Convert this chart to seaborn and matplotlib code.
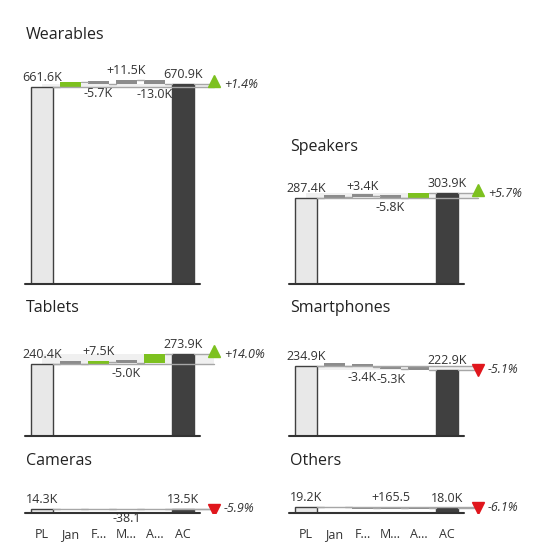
import matplotlib
matplotlib.use('Agg')
import matplotlib.pyplot as plt
import seaborn as sns

sns.set_style('white')
plt.rcParams['font.family'] = ['Open Sans', 'DejaVu Sans']

categories = ['PL', 'Jan', 'F...', 'M...', 'A...', 'AC']
products = ['Wearables', 'Speakers', 'Tablets', 'Smartphones', 'Cameras', 'Others']
pl_values = [661.6, 287.4, 240.4, 234.9, 14.3, 19.2]        # K
jan = [16.5, 4.0, 2.0, -1.5, -0.3, -0.6]
feb = [-5.7, 3.4, 7.5, -3.4, -0.2, -0.9]
mar = [11.5, -5.8, -5.0, -5.3, -0.0381, 0.1655]
apr = [-13.0, 14.9, 29.0, -1.8, -0.2619, -0.4655]
ac_values = [670.9, 303.9, 273.9, 222.9, 13.5, 18.0]
delta_labels = [
    [None, '-5.7K', '+11.5K', '-13.0K'],
    [None, '+3.4K', '-5.8K', None],
    [None, '+7.5K', '-5.0K', None],
    [None, '-3.4K', '-5.3K', None],
    [None, None, '-38.1', None],
    [None, None, '+165.5', None],
]
pct_labels = ['+1.4%', '+5.7%', '+14.0%', '-5.1%', '-5.9%', '-6.1%']

# layout in pixels (x of PL center, baseline y from top, title y)
layout = [(42, 284, 35), (306, 284, 147), (42, 436, 308),
          (306, 436, 308), (42, 513, 461), (306, 513, 461)]

GREEN, RED, GRAY, DARK = '#7DC11F', '#E0161C', '#8C8C8C', '#404040'
W = H = 560
step = 28.2
kpx = 0.298
xmin, xmax = -0.6, 7.6
ytop = 740

fig = plt.figure(figsize=(5.6, 5.6), dpi=100)

for i, name in enumerate(products):
    cx, base, ty = layout[i]
    left = cx + xmin * step
    ax = fig.add_axes([left / W, (H - base) / H, (xmax - xmin) * step / W, ytop * kpx / H])
    ax.patch.set_alpha(0)
    ax.set_xlim(xmin, xmax)
    ax.set_ylim(0, ytop)
    ax.axis('off')

    pl, ac = pl_values[i], ac_values[i]
    deltas = [jan[i], feb[i], mar[i], apr[i]]

    # reference band PL -> AC
    ax.fill_between([0, 6.1], [pl, pl], [ac, ac], color='#F0F0F0', lw=0)
    ax.plot([0.375, 6.1], [pl, pl], color='#A6A6A6', lw=1)
    ax.plot([5.375, 6.1], [ac, ac], color='#A6A6A6', lw=1)

    ax.bar(0, pl, width=0.75, color='#E8E8E8', edgecolor=DARK, lw=1)
    ax.bar(5, ac, width=0.75, color=DARK, edgecolor=DARK, lw=1)

    running = pl
    for j, d in enumerate(deltas):
        x = j + 1
        if pl > 100 and d > 0.02 * pl:
            col = GREEN
        elif pl > 100 and d < -0.03 * pl:
            col = RED
        else:
            col = GRAY
        h = max(abs(d), 10) if pl > 100 else 4
        lo = min(running, running + d)
        ax.bar(x, h, bottom=lo if pl > 100 else running - h, width=0.75, color=col, lw=0)
        ax.plot([x - 1 + 0.375, x - 0.375], [running, running], color='#A6A6A6', lw=1)
        running += d
        lab = delta_labels[i][j]
        if lab:
            if d > 0:
                ax.text(x, running + 12, lab, ha='center', va='bottom', fontsize=9, color='#333333')
            else:
                ax.text(x, running - 12, lab, ha='center', va='top', fontsize=9, color='#333333')
    ax.plot([4.375, 4.625], [running, running], color='#A6A6A6', lw=1)

    ax.text(0, pl + 10, f'{pl:.1f}K', ha='center', va='bottom', fontsize=9, color='#333333')
    ax.text(5, ac + 10, f'{ac:.1f}K', ha='center', va='bottom', fontsize=9, color='#333333')

    up = ac >= pl
    ax.plot([6.1], [ac + (10 if up else -2)], marker='^' if up else 'v', ms=9,
            color=GREEN if up else RED, ls='none')
    ax.text(6.45, ac, pct_labels[i], ha='left', va='center', fontsize=9,
            style='italic', color='#333333')

    ax.plot([-0.6, 5.6], [0, 0], color='#333333', lw=1.5, clip_on=False)

    fig.text((cx - 16) / W, 1 - ty / H, name, fontsize=11.5, va='center', ha='left', color='#222222')

    if i >= 4:
        for k, c in enumerate(categories):
            fig.text((cx + k * step) / W, 1 - 535 / H, c, fontsize=9,
                     ha='center', va='center', color='#333333')

plt.savefig('out.png', dpi=100)
